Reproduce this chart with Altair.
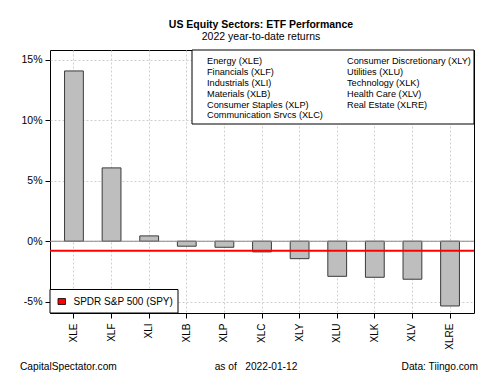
import altair as alt
import pandas as pd

# ---- data ----
tickers = ["XLE", "XLF", "XLI", "XLB", "XLP", "XLC", "XLY", "XLU", "XLK", "XLV", "XLRE"]
returns = [14.07, 6.06, 0.44, -0.41, -0.50, -0.88, -1.44, -2.90, -2.98, -3.14, -5.35]
spy_return = -0.78
legend_col1 = ["Energy (XLE)", "Financials (XLF)", "Industrials (XLI)", "Materials (XLB)",
               "Consumer Staples (XLP)", "Communication Srvcs (XLC)"]
legend_col2 = ["Consumer Discretionary (XLY)", "Utilities (XLU)", "Technology (XLK)",
               "Health Care (XLV)", "Real Estate (XLRE)"]
y_ticks = [-5, 0, 5, 10, 15]
title_text = "US Equity Sectors: ETF Performance"
subtitle_text = "2022 year-to-date returns"
spy_label = "SPDR S&P 500 (SPY)"
footer_left = "CapitalSpectator.com"
footer_mid = "as of\u00a0\u00a0 2022-01-12"
footer_right = "Data: Tiingo.com"

W, H = 424, 263
FONT = "Liberation Sans"
ydom = [-5.93, 15.8]

df = pd.DataFrame({"ticker": tickers, "ret": returns})
leg_rows = []
for i, s in enumerate(legend_col1):
    leg_rows.append({"label": s, "col": 0, "row": i})
for i, s in enumerate(legend_col2):
    leg_rows.append({"label": s, "col": 1, "row": i})
df_leg = pd.DataFrame(leg_rows)
one = pd.DataFrame({"k": [0]})

yscale = alt.Scale(domain=ydom, nice=False, zero=False)

bars = alt.Chart(df).mark_bar(fill="#BEBEBE", stroke="#3a3a3a", strokeWidth=1).encode(
    x=alt.X("ticker:N", sort=tickers,
            scale=alt.Scale(paddingInner=0.5, paddingOuter=0.387),
            axis=alt.Axis(title=None, labelAngle=270, labelAlign="right", labelBaseline="middle",
                          tickSize=5, labelPadding=5, domain=False, grid=True,
                          gridDash=[2, 2], gridColor="#cfcfcf", labelFont=FONT,
                          labelFontSize=10, labelColor="black", tickColor="black")),
    y=alt.Y("ret:Q", scale=yscale,
            axis=alt.Axis(title=None, values=y_ticks, labelExpr="datum.value + '%'",
                          tickSize=5, labelPadding=3, domain=False, grid=True,
                          gridDash=[2, 2], gridColor="#cfcfcf", labelFont=FONT,
                          labelFontSize=10.5, labelColor="black", tickColor="black")),
)

zero_rule = alt.Chart(one).mark_rule(color="#8a8a8a", strokeWidth=1).encode(
    y=alt.Y(datum=0, scale=yscale, axis=None))

spy_rule = alt.Chart(one).mark_rule(color="#ff0000", strokeWidth=2).encode(
    y=alt.Y(datum=spy_return, scale=yscale, axis=None))

# sector legend box (top right)
leg_box = alt.Chart(one).mark_rect(fill="white", stroke="black", strokeWidth=1).encode(
    x=alt.value(142), x2=alt.value(W), y=alt.value(0), y2=alt.value(74))

leg_text = alt.Chart(df_leg).mark_text(align="left", baseline="middle", font=FONT,
                                       fontSize=9.2, color="black").encode(
    x=alt.X("col:Q", scale=alt.Scale(domain=[0, 1], range=[157, 297]), axis=None),
    y=alt.Y("row:Q", scale=alt.Scale(domain=[0, 5], range=[11.3, 65.3]), axis=None),
    text="label:N")

# SPY legend (bottom left)
spy_box = alt.Chart(one).mark_rect(fill="white", stroke="black", strokeWidth=1).encode(
    x=alt.value(0), x2=alt.value(128), y=alt.value(239.5), y2=alt.value(H))
spy_sq = alt.Chart(one).mark_rect(fill="#ff0000", stroke="black", strokeWidth=0.8).encode(
    x=alt.value(8), x2=alt.value(15.5), y=alt.value(248.5), y2=alt.value(254.5))
spy_txt = alt.Chart(one).mark_text(text=spy_label, align="left", baseline="middle",
                                   font=FONT, fontSize=10, color="black").encode(
    x=alt.value(23.5), y=alt.value(251.5))

# titles and footers
t1 = alt.Chart(one).mark_text(text=title_text, align="center", baseline="middle", font=FONT,
                              fontSize=10.5, fontWeight="bold", color="black").encode(
    x=alt.value(211), y=alt.value(-25))
t2 = alt.Chart(one).mark_text(text=subtitle_text, align="center", baseline="middle", font=FONT,
                              fontSize=10.5, color="black").encode(
    x=alt.value(211), y=alt.value(-13))
f1 = alt.Chart(one).mark_text(text=footer_left, align="left", baseline="middle", font=FONT,
                              fontSize=10.2, color="black").encode(
    x=alt.value(-30), y=alt.value(316.5))
f2 = alt.Chart(one).mark_text(text=footer_mid, align="center", baseline="middle", font=FONT,
                              fontSize=10.2, color="black").encode(
    x=alt.value(206), y=alt.value(316.5))
f3 = alt.Chart(one).mark_text(text=footer_right, align="right", baseline="middle", font=FONT,
                              fontSize=10.2, color="black").encode(
    x=alt.value(428), y=alt.value(316.5))

chart = alt.layer(
    bars, zero_rule, spy_rule, leg_box, leg_text, spy_box, spy_sq, spy_txt, t1, t2, f1, f2, f3
).resolve_scale(x="independent", y="independent").properties(
    width=W, height=H,
    padding={"left": 50, "top": 50, "right": 26, "bottom": 62},
    autosize="none",
    background="white",
).configure_view(stroke="black", strokeWidth=1)

chart.save("out.html", embed_options={"renderer": "svg", "actions": False})
